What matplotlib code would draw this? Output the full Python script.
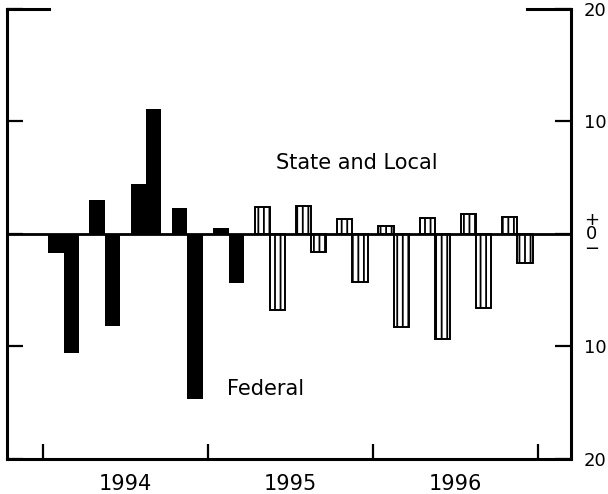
import numpy as np
import matplotlib
matplotlib.use("Agg")
import matplotlib.pyplot as plt

# quarterly changes, 1994Q1 .. 1996Q4
quarters = np.arange(12)
state_local = [-1.7, 3.0, 4.4, 2.3, 0.5, 2.4, 2.5, 1.3, 0.7, 1.4, 1.8, 1.5]
federal = [-10.6, -8.2, 11.1, -14.7, -4.4, -6.8, -1.6, -4.3, -8.3, -9.3, -6.6, -2.6]
n_actual = 5  # first five quarters solid, the rest hatched

year_labels = ["1994", "1995", "1996"]
right_labels = ["20", "10", "+\n0\n\u2212", "10", "20"]


def main():
    plt.rcParams["hatch.linewidth"] = 1.3
    plt.rcParams["font.family"] = "DejaVu Sans"

    fig = plt.figure(figsize=(6.08, 4.94), dpi=100)
    ax = fig.add_axes([0.0115, 0.0709, 0.9275, 0.9109])

    width = 0.37
    centers = quarters + 0.5

    for i in quarters:
        solid = i < n_actual
        face = "black" if solid else "white"
        hatch = None if solid else "|||"
        for offset, vals in ((-width / 2, state_local), (width / 2, federal)):
            ax.bar(
                centers[i] + offset,
                vals[i],
                width=width,
                color=face,
                edgecolor="black",
                linewidth=0 if solid else 1.4,
                hatch=hatch,
                zorder=2,
            )

    ax.axhline(0, color="black", linewidth=2.0, zorder=3)

    ax.set_xlim(-0.87, 12.8)
    ax.set_ylim(-20, 20)

    # frame: no full top spine, only corner pieces
    for side in ("left", "right", "bottom"):
        ax.spines[side].set_linewidth(2.2)
    ax.spines["top"].set_visible(False)
    ax.plot([0, 0.075], [1, 1], transform=ax.transAxes, color="black",
            linewidth=2.2, clip_on=False, solid_capstyle="projecting")
    ax.plot([0.922, 1], [1, 1], transform=ax.transAxes, color="black",
            linewidth=2.2, clip_on=False, solid_capstyle="projecting")

    ax.set_yticks([20, 10, 0, -10, -20])
    ax.set_yticklabels(right_labels)
    ax.tick_params(axis="y", left=True, right=True, labelleft=False,
                   labelright=True, direction="in", length=11.5,
                   width=1.6, pad=9.5, labelsize=13)
    for lab in ax.get_yticklabels():
        lab.set_linespacing(0.75)
        lab.set_multialignment("center")

    ax.set_xticks([0, 4, 8, 12])
    ax.set_xticks([2, 6, 10], minor=True)
    ax.set_xticklabels([])
    ax.set_xticklabels(year_labels, minor=True)
    ax.tick_params(axis="x", which="major", direction="in", length=11,
                   width=1.6)
    ax.tick_params(axis="x", which="minor", length=0, pad=11,
                   labelsize=15)

    ax.text(5.65, 6.3, "State and Local", fontsize=15, ha="left",
            va="center")
    ax.text(4.46, -13.8, "Federal", fontsize=15, ha="left", va="center")

    fig.savefig("out.png", dpi=100)
    plt.close(fig)


if __name__ == "__main__":
    main()
